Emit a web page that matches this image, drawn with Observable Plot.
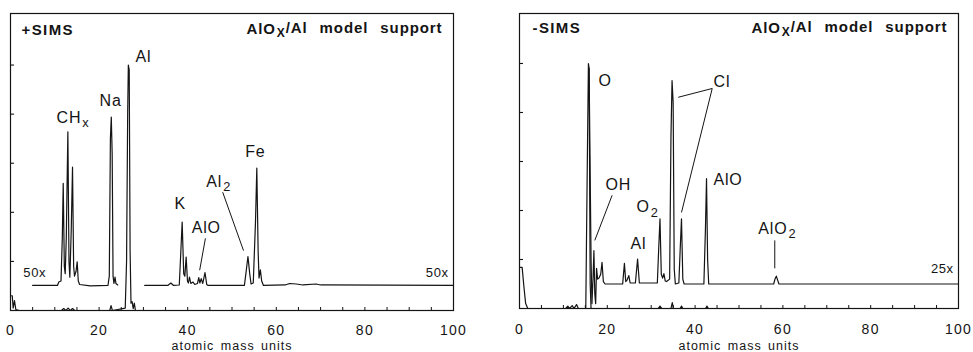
<!DOCTYPE html>
<html><head><meta charset="utf-8">
<script src="https://cdn.jsdelivr.net/npm/d3@7"></script>
<script src="https://cdn.jsdelivr.net/npm/@observablehq/plot@0.6"></script>
<style>
body{margin:0;background:#fff;}
#wrap{display:flex;width:973px;height:352px;overflow:hidden;}
#wrap svg{display:block;flex:none;}
</style></head><body><div id="wrap"></div>
<script>
// ---------- shared axis values ----------
const xTickLabels = [0, 20, 40, 60, 80, 100];
const xMarkerTicks = [5, 10, 15, 20, 25, 30, 35, 40, 45, 50, 55, 60, 65, 70, 75, 80, 85, 90, 95];
const yTicks = [1, 2, 3, 4, 5];
const axisTitle = "atomic mass units";

// ---------- +SIMS panel ----------
// 1x trace
const posLowMass = [0, 0.4, 0.6, 0.9, 1.2, 2, 11.5, 12, 12.5, 13, 13.5, 14, 14.5, 22.4, 22.7, 23, 25.9, 26.2, 26.45, 26.6, 26.8, 27.0, 27.2, 27.45, 27.7, 27.95, 28.2, 100];
const posLowInt  = [0.3, 0.3, 0.05, 0.2, 0.02, 0, 0, 0.04, 0, 0.05, 0, 0.04, 0, 0, 0.1, 0, 0.05, 1.0, 4.0, 5.0, 4.9, 1.2, 0.15, 0.18, 0.04, 0.15, 0, 0];
// 50x trace, first part (ends before Al)
const posHighAMass = [5, 10.6, 10.9, 11.4, 11.7, 11.9, 12.15, 12.35, 12.6, 12.95, 13.2, 13.4, 13.7, 14.0, 14.25, 14.45, 14.8, 15.05, 15.3, 15.6, 18, 22.0, 22.3, 22.55, 22.75, 22.95, 23.15, 23.35, 23.6, 23.8, 24.2];
const posHighAInt  = [0.51, 0.51, 0.58, 0.6, 1.5, 2.59, 0.9, 0.75, 1.5, 3.64, 1.0, 0.68, 1.6, 2.92, 0.9, 0.7, 0.8, 0.99, 0.6, 0.53, 0.5, 0.51, 0.7, 3.5, 3.94, 3.2, 0.7, 0.55, 0.68, 0.55, 0.52];
// 50x trace, second part
const posHighBMass = [30.3, 35.5, 36.2, 36.8, 38.1, 38.45, 38.75, 39.1, 39.35, 39.65, 39.95, 40.15, 40.4, 40.7, 41.2, 41.6, 42.2, 42.5, 42.75, 43.05, 43.4, 43.9, 44.3, 44.6, 52.8, 53.2, 53.6, 54.0, 54.3, 54.8, 55.3, 55.6, 55.9, 56.1, 56.4, 56.7, 57.1, 62, 63, 64.5, 66, 69, 70, 100];
const posHighBInt  = [0.51, 0.51, 0.56, 0.51, 0.52, 1.2, 1.80, 0.75, 0.7, 1.09, 0.6, 0.56, 0.68, 0.55, 0.58, 0.53, 0.55, 0.67, 0.56, 0.65, 0.55, 0.77, 0.53, 0.51, 0.51, 0.8, 1.10, 0.75, 0.54, 0.56, 1.8, 2.90, 1.2, 0.66, 0.83, 0.6, 0.51, 0.52, 0.55, 0.54, 0.52, 0.54, 0.52, 0.51];
// labels
const posLabelText = ["Al", "Na", "CH_x", "Fe", "Al_2", "K", "AlO", "50x", "50x"];
const posLabelMass = [28.2, 20.1, 10.4, 53.0, 44.2, 37.0, 40.9, 2.9, 98.9];
const posLabelInt  = [5.06, 4.16, 3.82, 3.12, 2.51, 2.06, 1.57, 0.69, 0.69];
const posLeaderMass1 = [47.9, 44.0];
const posLeaderInt1  = [2.41, 1.47];
const posLeaderMass2 = [52.6, 42.7];
const posLeaderInt2  = [1.22, 0.82];

// ---------- -SIMS panel ----------
const negLowMass = [0, 0.6, 1.0, 1.4, 1.9, 10.5, 11, 11.4, 12, 12.4, 13, 13.4, 15.1, 15.45, 15.7, 15.85, 16.1, 16.3, 20, 31.6, 32, 32.4, 34.5, 34.8, 35.1, 36.6, 36.9, 37.2, 42.4, 42.7, 43, 100];
const negLowInt  = [0.84, 0.84, 0.45, 0.1, 0, 0, 0.05, 0, 0.06, 0, 0.08, 0, 0, 3.0, 5.0, 4.9, 0.5, 0, 0, 0, 0.05, 0, 0, 0.12, 0, 0, 0.05, 0, 0, 0.05, 0, 0];
const negHighMass = [15.85, 16.3, 16.5, 16.75, 16.95, 17.15, 17.35, 17.55, 17.8, 18.1, 18.5, 18.8, 19.1, 19.5, 23.5, 23.9, 24.2, 24.5, 24.9, 25.2, 26.4, 26.9, 27.3, 31.4, 31.7, 32.0, 32.3, 32.6, 32.9, 33.2, 33.5, 34.2, 34.5, 34.75, 35.0, 35.25, 35.5, 36.3, 36.6, 36.9, 37.2, 37.5, 42.0, 42.35, 42.6, 42.85, 43.1, 57.9, 58.2, 58.5, 58.8, 59.1, 100];
const negHighInt  = [4.9, 1.0, 0.1, 0.6, 1.18, 0.3, 0.1, 0.82, 0.6, 0.62, 0.7, 0.94, 0.55, 0.5, 0.5, 0.92, 0.55, 0.58, 0.67, 0.52, 0.52, 1.01, 0.52, 0.52, 1.2, 1.83, 0.7, 0.62, 0.71, 0.56, 0.55, 0.6, 3.5, 4.65, 4.2, 0.8, 0.5, 0.52, 1.2, 1.83, 0.6, 0.5, 0.5, 1.6, 2.65, 1.0, 0.5, 0.5, 0.6, 0.66, 0.58, 0.5, 0.5];
const negLabelText = ["O", "Cl", "OH", "O_2", "Al", "AlO", "AlO_2", "25x"];
const negLabelMass = [18.0, 44.2, 19.6, 26.65, 25.3, 44.2, 54.4, 98.9];
const negLabelInt  = [4.55, 4.53, 2.41, 1.96, 1.22, 2.53, 1.53, 0.73];
const negLeaderMass1 = [43.9, 43.9, 21.1, 58.15];
const negLeaderInt1  = [4.49, 4.49, 2.31, 1.39];
const negLeaderMass2 = [36.15, 36.9, 17.15, 58.15];
const negLeaderInt2  = [4.31, 1.96, 1.39, 0.82];

const FONT = "'Liberation Sans', Arial, Helvetica, sans-serif";
const INK = "#141414";

const zipXY = (xs, ys) => xs.map((x, i) => ({x, y: ys[i]}));
const zipLab = (t, xs, ys) => t.map((s, i) => ({t: s, x: xs[i], y: ys[i]}));
const zipLinks = (x1, y1, x2, y2) => x1.map((v, i) => ({x1: v, y1: y1[i], x2: x2[i], y2: y2[i]}));

function panel(cfg) {
  const plotW = cfg.width - cfg.marginLeft - cfg.marginRight;
  const plotH = cfg.height - cfg.marginTop - cfg.marginBottom;
  const labels = zipLab(cfg.labText, cfg.labMass, cfg.labInt);
  const isGain = d => /^\d+x$/.test(d.t);
  const peakLabels = labels.filter(d => !isGain(d));
  const gainLeft = labels.filter(d => isGain(d) && d.x < 50);
  const gainRight = labels.filter(d => isGain(d) && d.x >= 50);
  const svg = Plot.plot({
    width: cfg.width, height: cfg.height,
    marginLeft: cfg.marginLeft, marginRight: cfg.marginRight,
    marginTop: cfg.marginTop, marginBottom: cfg.marginBottom,
    x: {domain: [0, 100], axis: null},
    y: {domain: [0, cfg.yMax], axis: null},
    style: {fontFamily: FONT, color: INK, background: "white", overflow: "visible"},
    marks: [
      Plot.frame({stroke: INK, strokeWidth: 1.2}),
      Plot.tickY(yTicks, {y: d => d, stroke: INK, strokeWidth: 1.1, insetRight: plotW - 4}),
      Plot.tickX(xMarkerTicks, {x: d => d, stroke: INK, strokeWidth: 1, insetTop: plotH - 3}),
      Plot.axisX({ticks: xTickLabels, tickSize: 0, tickPadding: cfg.tickPad, fontSize: 14, label: null, tickFormat: d => String(d), ariaDescription: "ticklabels"}),
      Plot.text([axisTitle], {frameAnchor: "bottom", dy: cfg.titleDy, lineAnchor: "bottom", fontSize: 12.5, fill: INK, ariaDescription: "axistitle"}),
      ...cfg.traces.map(tr => Plot.line(tr, {x: "x", y: "y", stroke: INK, strokeWidth: 1.2, clip: true})),
      Plot.link(cfg.links, {x1: "x1", y1: "y1", x2: "x2", y2: "y2", stroke: INK, strokeWidth: 1}),
      Plot.text(peakLabels, {x: "x", y: "y", text: "t", textAnchor: "start", lineAnchor: "bottom", fontSize: 16, fill: INK, ariaDescription: "peak"}),
      Plot.text(gainLeft, {x: "x", y: "y", text: "t", textAnchor: "start", lineAnchor: "bottom", fontSize: 13, fill: INK, ariaDescription: "gain"}),
      Plot.text(gainRight, {x: "x", y: "y", text: "t", textAnchor: "end", lineAnchor: "bottom", fontSize: 13, fill: INK, ariaDescription: "gain"}),
      Plot.text([cfg.mode], {frameAnchor: "top-left", dx: cfg.modeDx, dy: cfg.modeDy, textAnchor: "start", lineAnchor: "bottom", fontSize: 15, fontWeight: "bold", fill: INK, ariaDescription: "mode"}),
      Plot.text(["AlO_X/Al model support"], {frameAnchor: "top-right", dx: cfg.sampleDx, dy: cfg.sampleDy, textAnchor: "end", lineAnchor: "bottom", fontSize: 15, fontWeight: "bold", fill: INK, ariaDescription: "sample"})
    ]
  });
  const sel = d3.select(svg);
  sel.selectAll('[aria-description="ticklabels"] text').style("letter-spacing", "1.3px");
  sel.selectAll('[aria-description="axistitle"] text').style("letter-spacing", "1px").style("word-spacing", "2px");
  sel.selectAll('[aria-description="peak"] text').style("letter-spacing", "0.8px");
  sel.selectAll('[aria-description="gain"] text').style("letter-spacing", "0.6px");
  sel.selectAll('[aria-description="mode"] text').style("letter-spacing", "1.4px");
  sel.selectAll('[aria-description="sample"] text').style("letter-spacing", "0.9px").style("word-spacing", "7px");
  // subscripts: "_c" -> lowered smaller glyph
  sel.selectAll("text").each(function() {
    const el = this;
    if (el.querySelector("tspan")) return;
    const s = el.textContent;
    if (!s.includes("_")) return;
    const parts = s.split(/_(\w)/);
    el.textContent = "";
    parts.forEach((p, i) => {
      if (!p) return;
      const ts = document.createElementNS("http://www.w3.org/2000/svg", "tspan");
      ts.textContent = p;
      if (i % 2 === 1) {
        ts.setAttribute("dy", "0.32em");
        ts.setAttribute("dx", "1");
        ts.setAttribute("font-size", "0.8em");
      } else if (i > 0) {
        ts.setAttribute("dy", "-0.26em");
      }
      el.appendChild(ts);
    });
  });
  return svg;
}

const wrap = document.getElementById("wrap");
wrap.appendChild(panel({
  width: 485, height: 352, marginLeft: 10, marginRight: 32, marginTop: 13, marginBottom: 42,
  yMax: 6.05, tickPad: 15, titleDy: 39,
  mode: "+SIMS", modeDx: 11, modeDy: 21, sampleDx: -11, sampleDy: 20,
  traces: [zipXY(posLowMass, posLowInt), zipXY(posHighAMass, posHighAInt), zipXY(posHighBMass, posHighBInt)],
  labText: posLabelText, labMass: posLabelMass, labInt: posLabelInt,
  links: zipLinks(posLeaderMass1, posLeaderInt1, posLeaderMass2, posLeaderInt2)
}));
wrap.appendChild(panel({
  width: 488, height: 352, marginLeft: 34, marginRight: 15, marginTop: 13, marginBottom: 44,
  yMax: 6.02, tickPad: 16, titleDy: 41,
  mode: "-SIMS", modeDx: 13, modeDy: 19, sampleDx: -11, sampleDy: 19,
  traces: [zipXY(negLowMass, negLowInt), zipXY(negHighMass, negHighInt)],
  labText: negLabelText, labMass: negLabelMass, labInt: negLabelInt,
  links: zipLinks(negLeaderMass1, negLeaderInt1, negLeaderMass2, negLeaderInt2)
}));
</script></body></html>
